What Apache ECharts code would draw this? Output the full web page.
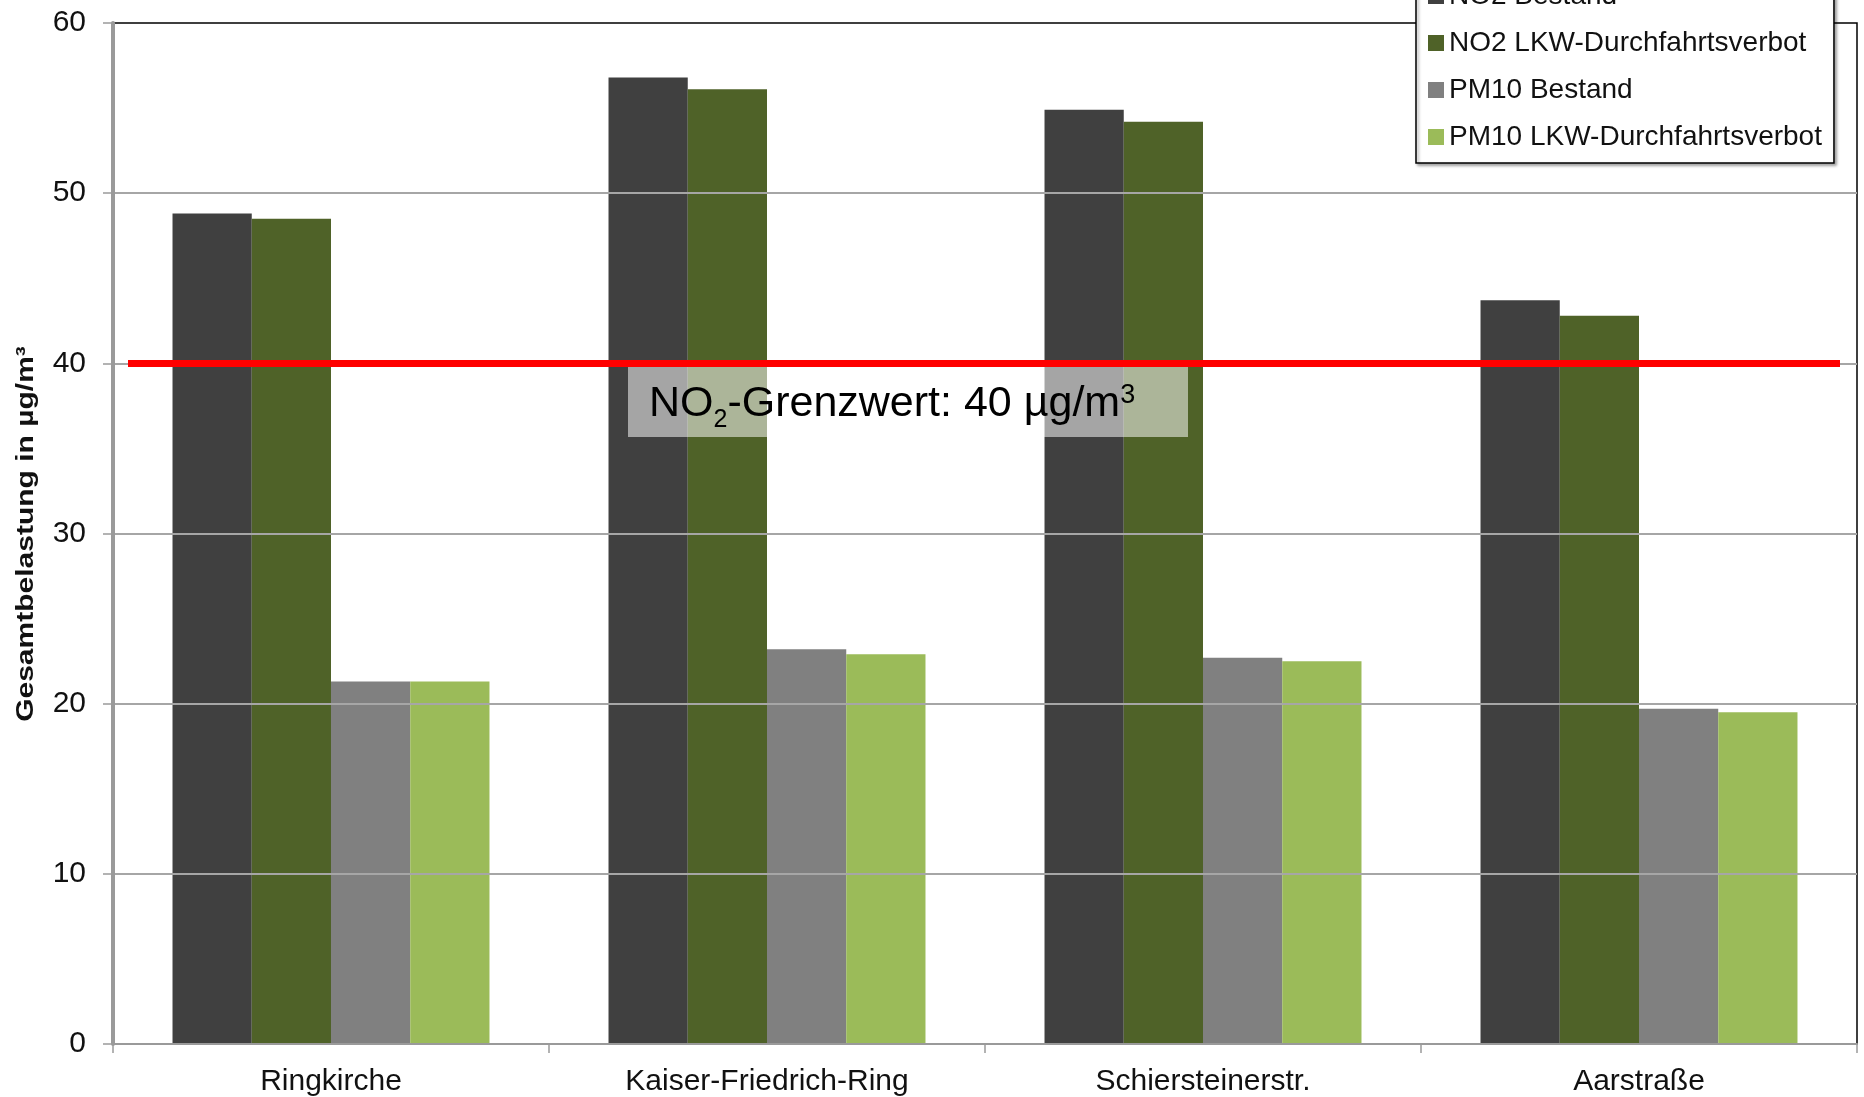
<!DOCTYPE html>
<html>
<head>
<meta charset="utf-8">
<script src="https://cdn.jsdelivr.net/npm/echarts@6/dist/echarts.min.js"></script>
<style>
  html, body { margin: 0; padding: 0; background: #fff; }
  #chart { width: 1864px; height: 1097px; }
</style>
</head>
<body>
<div id="chart"></div>
<script>
// Messpunkte
const categories = ['Ringkirche', 'Kaiser-Friedrich-Ring', 'Schiersteinerstr.', 'Aarstraße'];

// Gesamtbelastung in µg/m³
const no2Bestand = [48.8, 56.8, 54.9, 43.7];
const no2Lkw = [48.5, 56.1, 54.2, 42.8];
const pm10Bestand = [21.3, 23.2, 22.7, 19.7];
const pm10Lkw = [21.3, 22.9, 22.5, 19.5];

const seriesNames = ['NO2 Bestand', 'NO2 LKW-Durchfahrtsverbot', 'PM10 Bestand', 'PM10 LKW-Durchfahrtsverbot'];
const seriesColors = ['#404040', '#4f6228', '#808080', '#9bbb59'];

// Werteachse
const yMin = 0;
const yMax = 60;
const yStep = 10;

// NO2-Grenzwert
const no2Limit = 40;

const FONT = '"Liberation Sans", Arial, sans-serif';
const chart = echarts.init(document.getElementById('chart'), null, { renderer: 'canvas' });

const seriesData = [no2Bestand, no2Lkw, pm10Bestand, pm10Lkw];

const series = seriesData.map((values, i) => ({
  name: seriesNames[i],
  type: 'bar',
  data: values,
  barGap: '0%',
  barCategoryGap: '27.3%',
  itemStyle: { color: seriesColors[i] },
  z: 2
}));

// Grenzwertlinie auf der ersten Reihe
series[0].markLine = {
  silent: true,
  symbol: ['none', 'none'],
  label: { show: false },
  lineStyle: { color: '#ff0000', width: 7, type: 'solid' },
  z: 5,
  data: [[
    { xAxis: -Infinity, yAxis: no2Limit, x: 128 },
    { xAxis: Infinity, yAxis: no2Limit, x: 1840 }
  ]]
};

const option = {
  animation: false,
  backgroundColor: '#ffffff',
  textStyle: { fontFamily: FONT },
  grid: {
    left: 113,
    right: 7,
    top: 23,
    bottom: 52.5,
    show: true,
    borderColor: '#000',
    borderWidth: 1.5,
    z: 0
  },
  legend: {
    orient: 'vertical',
    left: 1416,
    top: -28,
    padding: [10, 12, 12, 12],
    itemGap: 19,
    itemWidth: 16,
    itemHeight: 16,
    icon: 'rect',
    backgroundColor: '#ffffff',
    borderColor: '#000',
    borderWidth: 1.5,
    shadowColor: 'rgba(0,0,0,0.35)',
    shadowBlur: 3,
    shadowOffsetX: 2,
    shadowOffsetY: 2,
    textStyle: { fontFamily: FONT, fontSize: 28, color: '#111', lineHeight: 28 },
    data: seriesNames,
    z: 10
  },
  xAxis: {
    type: 'category',
    data: categories,
    boundaryGap: true,
    axisLine: { lineStyle: { color: '#9a9a9a', width: 2 } },
    axisTick: { show: true, length: 9, lineStyle: { color: '#9a9a9a', width: 1.5 } },
    axisLabel: { fontFamily: FONT, fontSize: 30, color: '#111', margin: 23, interval: 0 },
    z: 3
  },
  yAxis: {
    type: 'value',
    min: yMin,
    max: yMax,
    interval: yStep,
    axisLine: { show: true, lineStyle: { color: '#9a9a9a', width: 4 } },
    axisTick: { show: true, length: 10, lineStyle: { color: '#9a9a9a', width: 1.5 } },
    axisLabel: { fontFamily: FONT, fontSize: 30, color: '#111', margin: 27 },
    splitLine: { show: true, showMaxLine: false, lineStyle: { color: '#a6a6a6', width: 2 } },
    z: 3
  },
  graphic: [
    {
      type: 'text',
      x: 26,
      y: 534,
      rotation: Math.PI / 2,
      scaleX: 1.25,
      style: {
        text: 'Gesamtbelastung in µg/m³',
        font: 'bold 24px ' + FONT,
        fill: '#111',
        align: 'center',
        verticalAlign: 'middle'
      }
    },
    {
      type: 'rect',
      z: 100,
      shape: { x: 628, y: 367, width: 560, height: 70 },
      style: { fill: 'rgba(255,255,255,0.53)' }
    },
    {
      type: 'text',
      z: 101,
      x: 649,
      y: 404,
      style: {
        text: '{a|NO}{sub|2}{a|-Grenzwert: ' + no2Limit + ' µg/m}{sup|3}',
        align: 'left',
        verticalAlign: 'middle',
        rich: {
          a: { fontFamily: FONT, fontSize: 43, color: '#000', lineHeight: 58 },
          sub: { fontFamily: FONT, fontSize: 25, color: '#000', lineHeight: 24, verticalAlign: 'bottom' },
          sup: { fontFamily: FONT, fontSize: 27, color: '#000', verticalAlign: 'top', padding: [7, 0, 0, 0] }
        }
      }
    }
  ],
  series: series
};

chart.setOption(option);
</script>
</body>
</html>
